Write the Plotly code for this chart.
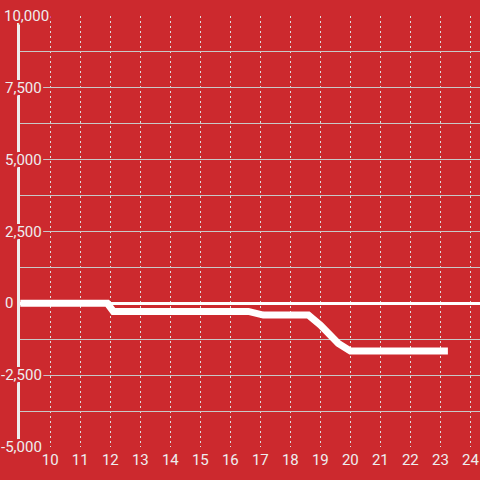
import plotly.graph_objects as go

# data
x_vals = [9, 11.9, 12.1, 16.6, 17.1, 18.6, 19.0, 19.6, 20.0, 23.25]
y_vals = [0, 0, -280, -280, -410, -410, -760, -1400, -1660, -1660]

x_ticks = list(range(10, 25))
y_tick_vals = [10000, 7500, 5000, 2500, 0, -2500, -5000]
y_tick_text = ["10,000", "7,500", "5,000", "2,500", "0", "-2,500", "-5,000"]

# style
BG = "#cc292e"
TXT = "#eeeeee"
FONT = "Roboto"
L, R, T, B = 20, 0, 16, 33
W = H = 480
PW = W - L - R
label_right_px = {"10,000": 51, "0": 15}
default_right_px = 44

halo = ", ".join(f"{dx}px {dy}px 0 {BG}" for dx in (-2, -1, 0, 1, 2) for dy in (-2, -1, 0, 1, 2) if dx or dy)

fig = go.Figure()
fig.add_trace(go.Scatter(
    x=x_vals, y=y_vals, mode="lines",
    line=dict(color="white", width=7),
    hoverinfo="skip", showlegend=False,
))

annotations = []
for v, t in zip(y_tick_vals, y_tick_text):
    px = label_right_px.get(t, default_right_px)
    annotations.append(dict(
        x=(px - L) / PW, xref="paper", y=v, yref="y",
        text=t, showarrow=False, xanchor="right", yanchor="middle",
        font=dict(family=FONT, size=15, color=TXT, shadow=halo),
    ))

fig.update_layout(
    width=W, height=H,
    margin=dict(l=L, r=R, t=T, b=B, pad=0, autoexpand=False),
    paper_bgcolor=BG, plot_bgcolor=BG,
    showlegend=False,
    annotations=annotations,
    xaxis=dict(
        range=[8.99, 24.32], tickmode="array", tickvals=x_ticks,
        ticktext=[str(v) for v in x_ticks],
        showgrid=True, gridcolor="#dddddd", gridwidth=1, griddash="2px,3px",
        zeroline=False, showline=False, ticks="", automargin=False,
        ticklabelstandoff=2,
        tickfont=dict(family=FONT, size=15, color=TXT),
        fixedrange=True,
    ),
    yaxis=dict(
        range=[-5000, 10000], tick0=0, dtick=1250,
        showgrid=True, gridcolor="#c8c8c8", gridwidth=1,
        zeroline=True, zerolinecolor="white", zerolinewidth=3,
        showline=True, linecolor="#eeeeee", linewidth=3,
        showticklabels=False, ticks="", automargin=False,
        fixedrange=True,
    ),
)

fig.write_html(
    "out.html",
    config={"displayModeBar": False},
    post_script="document.body.style.margin='0';document.body.style.overflow='hidden';",
)
